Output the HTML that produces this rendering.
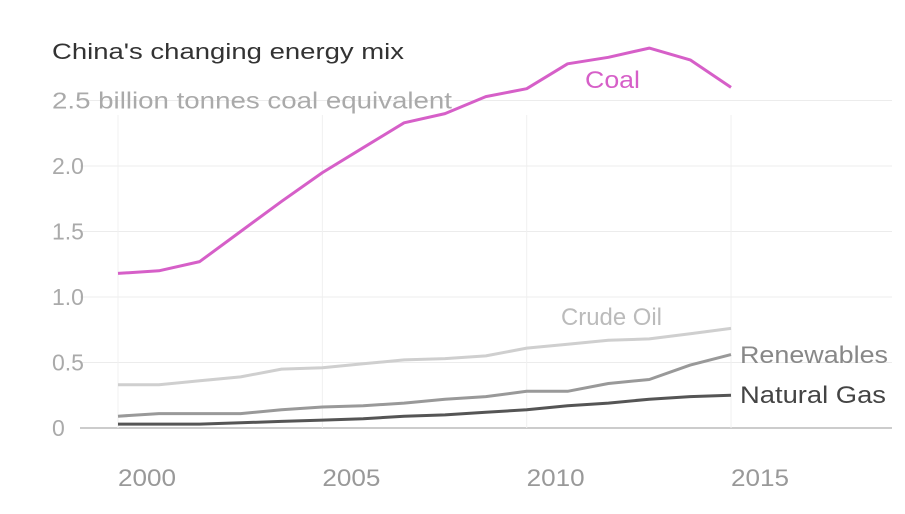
<!DOCTYPE html>
<html><head><meta charset="utf-8"><style>
body{margin:0;background:#fff;}
svg{display:block;font-family:"Liberation Sans",sans-serif;}
</style></head><body>
<svg id="chart" width="905" height="514">
<text x="52" y="59" font-size="22" fill="#333" textLength="352" lengthAdjust="spacingAndGlyphs">China's changing energy mix</text>
<g id="grid"></g><g id="lines"></g>
</svg>
<script>
const years=[2000,2001,2002,2003,2004,2005,2006,2007,2008,2009,2010,2011,2012,2013,2014,2015];
const coal=[1.18,1.20,1.27,1.50,1.73,1.95,2.14,2.33,2.40,2.53,2.59,2.78,2.83,2.90,2.81,2.60];
const oil=[0.33,0.33,0.36,0.39,0.45,0.46,0.49,0.52,0.53,0.55,0.61,0.64,0.67,0.68,0.72,0.76];
const renew=[0.09,0.11,0.11,0.11,0.14,0.16,0.17,0.19,0.22,0.24,0.28,0.28,0.34,0.37,0.48,0.56];
const gas=[0.03,0.03,0.03,0.04,0.05,0.06,0.07,0.09,0.10,0.12,0.14,0.17,0.19,0.22,0.24,0.25];
const yTicks=[0,0.5,1.0,1.5,2.0,2.5];
const yTickLabels=["0","0.5","1.0","1.5","2.0","2.5 billion tonnes coal equivalent"];
const xTicks=[2000,2005,2010,2015];
const NS="http://www.w3.org/2000/svg";
const x=v=>118+(v-2000)*40.87;
const y=v=>428-v*131;
const grid=document.getElementById('grid'),lines=document.getElementById('lines');
function mk(tag,attrs,parent,text){const e=document.createElementNS(NS,tag);for(const k in attrs)e.setAttribute(k,attrs[k]);if(text!==undefined)e.textContent=text;parent.appendChild(e);return e;}
yTicks.forEach((t,i)=>{
  const l=mk('line',{x1:80,x2:892,y1:y(t),y2:y(t),stroke:t===0?'#bbb':'#ececec','stroke-width':t===0?1.5:1},grid);
  
  
  const a={x:52,y:y(t)+8,'font-size':23,fill:'#aaa'};
  if(i===yTicks.length-1){a.textLength=400;a.lengthAdjust='spacingAndGlyphs';}
  const tx=mk('text',a,grid,yTickLabels[i]);
  
  
});
xTicks.forEach(t=>{
  const l=mk('line',{x1:x(t),x2:x(t),y1:115,y2:428,stroke:'#f0f0f0'},grid);
  
  
  const tx=mk('text',{x:x(t),y:486,'font-size':24,fill:'#999',textLength:58,lengthAdjust:'spacingAndGlyphs'},grid,String(t));
  
  
});
const series=[[coal,'#d65fc8','coal-line','Coal',585,88,'#d65fc8',55],[oil,'#cfcfcf','crude-oil-line','Crude Oil',561,325,'#bbb',101],[renew,'#999','renewables-line','Renewables',740,363,'#888',148],[gas,'#555','natural-gas-line','Natural Gas',740,403,'#444',146]];
series.forEach(s=>{
  const d=s[0].map((v,i)=>(i?'L':'M')+x(years[i]).toFixed(1)+','+y(v).toFixed(1)).join(' ');
  const p=mk('path',{d:d,fill:'none',stroke:s[1],'stroke-width':3,'stroke-linejoin':'round'},lines);
  
  
  const t=mk('text',{x:s[4],y:s[5],'font-size':24,fill:s[6],textLength:s[7],lengthAdjust:'spacingAndGlyphs'},lines,s[3]);
  
  
});
</script>
</body></html>
